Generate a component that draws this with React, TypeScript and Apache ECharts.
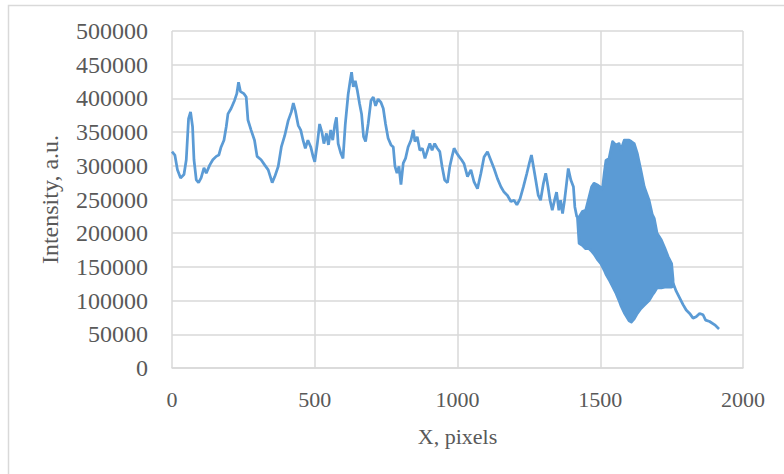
import React, { useEffect, useRef } from "react";
import * as echarts from "echarts";

// Main profile before the oscillating band
const profileX = [0, 10, 19, 30, 42, 50, 58, 65, 72, 77, 85, 93, 102, 112, 120, 132, 143, 155, 164, 172, 182, 190, 196, 207, 219, 227, 233, 240, 252, 260, 266, 277, 289, 298, 312, 325, 337, 351, 360, 372, 383, 395, 407, 418, 425, 432, 442, 451, 459, 467, 476, 486, 494, 500, 509, 517, 525, 532, 541, 548, 556, 563, 570, 576, 582, 591, 599, 607, 617, 624, 629, 635, 642, 649, 657, 664, 671, 678, 687, 697, 705, 713, 722, 732, 740, 748, 757, 767, 775, 781, 788, 795, 802, 810, 818, 827, 837, 845, 851, 859, 868, 877, 886, 895, 903, 911, 920, 929, 938, 946, 955, 965, 973, 981, 988, 997, 1005, 1014, 1023, 1035, 1047, 1058, 1070, 1082, 1093, 1105, 1117, 1128, 1140, 1152, 1163, 1175, 1187, 1198, 1208, 1219, 1231, 1243, 1251, 1259, 1266, 1274, 1283, 1291, 1301, 1309, 1317, 1324, 1332, 1340, 1347, 1355, 1361, 1368, 1375, 1382, 1388, 1397, 1406, 1411, 1418];
const profileY = [321000, 316000, 294000, 282000, 287000, 309000, 370000, 380000, 358000, 309000, 279000, 275000, 282000, 297000, 289000, 301000, 309000, 314000, 316000, 328000, 338000, 358000, 377000, 385000, 397000, 407000, 424000, 410000, 407000, 402000, 368000, 353000, 338000, 314000, 309000, 301000, 294000, 275000, 284000, 299000, 328000, 345000, 367000, 380000, 393000, 382000, 360000, 353000, 338000, 326000, 338000, 328000, 314000, 306000, 333000, 362000, 350000, 333000, 348000, 331000, 353000, 338000, 360000, 372000, 333000, 319000, 311000, 362000, 406000, 426000, 439000, 417000, 426000, 412000, 392000, 377000, 343000, 336000, 362000, 397000, 402000, 389000, 399000, 394000, 385000, 362000, 341000, 331000, 328000, 299000, 289000, 299000, 272000, 304000, 311000, 328000, 338000, 353000, 336000, 343000, 323000, 326000, 311000, 323000, 333000, 323000, 333000, 326000, 321000, 299000, 279000, 275000, 299000, 314000, 326000, 319000, 314000, 309000, 303000, 284000, 294000, 276000, 266000, 289000, 313000, 321000, 308000, 296000, 281000, 269000, 261000, 256000, 247000, 249000, 242000, 251000, 269000, 289000, 303000, 316000, 299000, 279000, 256000, 249000, 274000, 289000, 269000, 249000, 234000, 249000, 261000, 234000, 249000, 229000, 249000, 274000, 296000, 279000, 269000, 239000, 224000];

// Oscillating band: upper and lower envelopes
const bandX = [1420, 1426, 1437, 1449, 1461, 1470, 1478, 1492, 1502, 1508, 1514, 1520, 1531, 1543, 1554, 1566, 1572, 1584, 1601, 1609, 1619, 1630, 1642, 1654, 1671, 1682, 1689, 1699, 1714, 1726, 1738, 1750, 1755];
const bandUpper = [224000, 224000, 232000, 234000, 254000, 269000, 274000, 271000, 268000, 266000, 289000, 308000, 311000, 336000, 331000, 333000, 323000, 338000, 338000, 336000, 333000, 318000, 294000, 269000, 249000, 228000, 222000, 200000, 190000, 178000, 165000, 155000, 131000];
const bandLower = [224000, 185000, 182000, 177000, 177000, 173000, 169000, 160000, 155000, 150000, 145000, 139000, 131000, 121000, 112000, 100000, 93000, 82000, 70000, 68000, 73000, 81000, 88000, 93000, 100000, 108000, 112000, 119000, 119000, 120000, 120000, 120000, 121000];

// Tail after the band
const tailX = [1755, 1766, 1778, 1790, 1801, 1813, 1825, 1836, 1848, 1860, 1869, 1883, 1901, 1916];
const tailY = [126000, 114000, 104000, 94000, 86000, 81000, 74000, 76000, 81000, 79000, 71000, 69000, 64000, 58000];

const X_NAME = "X, pixels";
const Y_NAME = "Intensity, a.u.";

const BLUE = "#5b9bd5";
const TEXT = "#595959";
const GRID = "#d9d9d9";
const FONT = "'Liberation Serif', 'Times New Roman', serif";

export default function App() {
  const ref = useRef<HTMLDivElement>(null);
  useEffect(() => {
    if (!ref.current) return;
    const chart = echarts.init(ref.current, null, { renderer: "svg" });
    const zip = (xs: number[], ys: number[]) => xs.map((x, i) => [x, ys[i]]);
    const lineStyle = { color: BLUE, width: 2.75 };
    const bandData = bandX.map((x, i) => [x, bandUpper[i], bandLower[i]]);
    chart.setOption({
      animation: false,
      backgroundColor: "#ffffff",
      textStyle: { fontFamily: FONT },
      graphic: [
        {
          type: "rect",
          shape: { x: 8.5, y: 5.5, width: 800, height: 500 },
          style: { fill: "none", stroke: GRID, lineWidth: 1.5 },
          silent: true,
        },
      ],
      grid: { left: 172, top: 31, right: 41, bottom: 106, containLabel: false },
      xAxis: {
        type: "value",
        min: 0,
        max: 2000,
        interval: 500,
        name: X_NAME,
        nameLocation: "middle",
        nameGap: 57,
        nameTextStyle: { fontFamily: FONT, fontSize: 22, color: TEXT },
        axisLine: { show: true, lineStyle: { color: GRID, width: 1.5 } },
        axisTick: { show: false },
        axisLabel: { fontFamily: FONT, fontSize: 22, color: TEXT, margin: 20, formatter: (v: number) => String(v) },
        splitLine: { show: true, lineStyle: { color: GRID, width: 1.5 } },
      },
      yAxis: {
        type: "value",
        min: 0,
        max: 500000,
        interval: 50000,
        name: Y_NAME,
        nameLocation: "middle",
        nameGap: 110,
        nameTextStyle: { fontFamily: FONT, fontSize: 24, color: TEXT },
        axisLine: { show: false },
        axisTick: { show: false },
        axisLabel: { fontFamily: FONT, fontSize: 24, color: TEXT, margin: 24, formatter: (v: number) => String(v) },
        splitLine: { show: true, lineStyle: { color: GRID, width: 1.5 } },
      },
      series: [
        {
          type: "line",
          data: zip(profileX, profileY),
          showSymbol: false,
          lineStyle,
        },
        {
          type: "custom",
          data: bandData,
          encode: { x: 0, y: [1, 2] },
          clip: true,
          renderItem: (params: any, api: any) => {
            if (params.dataIndex !== 0) return null;
            const pts: number[][] = [];
            for (let i = 0; i < bandX.length; i++) pts.push(api.coord([bandX[i], bandUpper[i]]));
            for (let i = bandX.length - 1; i >= 0; i--) pts.push(api.coord([bandX[i], bandLower[i]]));
            return {
              type: "polygon",
              shape: { points: pts },
              style: { fill: BLUE, stroke: BLUE, lineWidth: 2.75, lineJoin: "round" },
            };
          },
        },
        {
          type: "line",
          data: zip(tailX, tailY),
          showSymbol: false,
          lineStyle,
        },
      ],
    });
    return () => chart.dispose();
  }, []);
  return (
    <div
      ref={ref}
      style={{ position: "fixed", left: 0, top: 0, width: 784, height: 474, background: "#fff" }}
    />
  );
}
